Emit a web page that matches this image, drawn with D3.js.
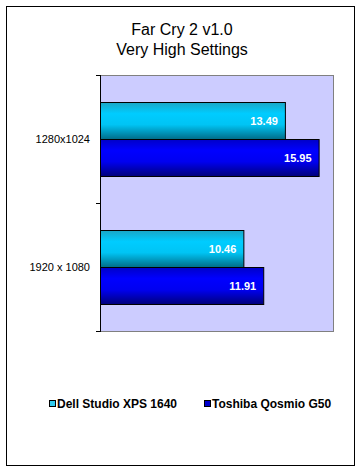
<!DOCTYPE html>
<html>
<head>
<meta charset="utf-8">
<script src="https://cdn.jsdelivr.net/npm/d3@7"></script>
<style>
  body { margin: 0; background: #fff; }
  text { font-family: Arial, "Liberation Sans", sans-serif; }
  .title { font-size: 16px; }
  .cat { font-size: 11px; }
  .val { font-size: 11px; font-weight: bold; fill: #fff; }
  .leg { font-size: 12px; font-weight: bold; }
</style>
</head>
<body>
<div id="chart"></div>
<script>
// chart data
var titleLines = ["Far Cry 2 v1.0", "Very High Settings"];
var categories = ["1280x1024", "1920 x 1080"];
var seriesNames = ["Dell Studio XPS 1640", "Toshiba Qosmio G50"];
var dellValues = [13.49, 10.46];
var toshibaValues = [15.95, 11.91];

var width = 360, height = 471;
var margin = {top: 75, right: 27, bottom: 140, left: 100};
var plotW = 360 - margin.left - margin.right;   // 233
var plotH = 471 - margin.top - margin.bottom;   // 256

var svg = d3.select("#chart")
    .append("svg")
    .attr("width", width)
    .attr("height", height);

// gradients like the old excel bars
var defs = svg.append("defs");
var grads = [
    {id: "gDell", stops: ["#1aa6c6", "#00ccff", "#00c4f4", "#006b86"]},
    {id: "gTosh", stops: ["#0000c8", "#0000ff", "#0000f0", "#00007a"]}
];
grads.forEach(function(g) {
    var lg = defs.append("linearGradient")
        .attr("id", g.id)
        .attr("x1", 0).attr("y1", 0).attr("x2", 0).attr("y2", 1);
    [0, 0.3, 0.6, 1].forEach(function(o, i) {
        lg.append("stop").attr("offset", o).attr("stop-color", g.stops[i]);
    });
});
var legendFill = ["#33ccee", "#0000cc"];

// outer border
svg.append("rect")
    .attr("x", 6.5).attr("y", 6.5)
    .attr("width", 348).attr("height", 459)
    .attr("fill", "#fff")
    .attr("stroke", "#000");

// title
svg.selectAll(".title")
    .data(titleLines)
    .enter()
    .append("text")
    .attr("class", "title")
    .attr("x", 182)
    .attr("y", function(d, i) { return 35 + i * 20; })
    .attr("text-anchor", "middle")
    .text(function(d) { return d; });

var g = svg.append("g")
    .attr("transform", "translate(" + margin.left + "," + margin.top + ")");

var x = d3.scaleLinear().domain([0, 17]).range([0, plotW]);
var y0 = d3.scaleBand().domain(categories).range([0, plotH]);
var y1 = d3.scaleBand().domain(seriesNames).range([27, y0.bandwidth() - 27]);

// plot area
g.append("rect")
    .attr("x", 0.5).attr("y", 0.5)
    .attr("width", plotW).attr("height", plotH)
    .attr("fill", "#ccccff")
    .attr("stroke", "#808080");

// left axis with ticks on category boundaries
var yAxis = d3.axisLeft(y0).tickSize(0).tickPadding(10);
var ax = g.append("g").attr("class", "yaxis").call(yAxis);
ax.select(".domain").remove();
ax.selectAll("text").attr("class", "cat").style("font-size", "11px")
    .style("font-family", "Arial, 'Liberation Sans', sans-serif").attr("fill", "#000");

var bounds = [0].concat(categories.map(function(c) { return y0(c) + y0.bandwidth(); }));
g.selectAll(".tk")
    .data(bounds)
    .enter()
    .append("line")
    .attr("x1", -4).attr("x2", 0)
    .attr("y1", function(d) { return Math.round(d) + 0.5; })
    .attr("y2", function(d) { return Math.round(d) + 0.5; })
    .attr("stroke", "#000");
g.append("line")
    .attr("x1", 0.5).attr("x2", 0.5)
    .attr("y1", 0).attr("y2", plotH + 1)
    .attr("stroke", "#000");

// bars
var rows = categories.map(function(c, i) {
    return [
        {cat: c, s: seriesNames[0], v: dellValues[i], fill: "url(#gDell)"},
        {cat: c, s: seriesNames[1], v: toshibaValues[i], fill: "url(#gTosh)"}
    ];
});
var flat = [].concat.apply([], rows);

g.selectAll(".bar")
    .data(flat)
    .enter()
    .append("rect")
    .attr("class", "bar")
    .attr("x", 0.5)
    .attr("y", function(d) { return y0(d.cat) + y1(d.s) + 0.5; })
    .attr("width", function(d) { return x(d.v); })
    .attr("height", y1.bandwidth())
    .attr("fill", function(d) { return d.fill; })
    .attr("stroke", "#000");

g.selectAll(".val")
    .data(flat)
    .enter()
    .append("text")
    .attr("class", "val")
    .attr("x", function(d) { return x(d.v) - 7; })
    .attr("y", function(d) { return y0(d.cat) + y1(d.s) + y1.bandwidth() / 2 + 4; })
    .attr("text-anchor", "end")
    .text(function(d) { return d.v.toFixed(2); });

// legend
var legX = [49, 204];
var leg = svg.selectAll(".legItem")
    .data(seriesNames)
    .enter()
    .append("g")
    .attr("class", "legItem")
    .attr("transform", function(d, i) { return "translate(" + legX[i] + ",399)"; });
leg.append("rect")
    .attr("x", 0.5).attr("y", 1.5)
    .attr("width", 6).attr("height", 6)
    .attr("fill", function(d, i) { return legendFill[i]; })
    .attr("stroke", "#000");
leg.append("text")
    .attr("class", "leg")
    .attr("x", 8)
    .attr("y", 9)
    .text(function(d) { return d; });
</script>
</body>
</html>
